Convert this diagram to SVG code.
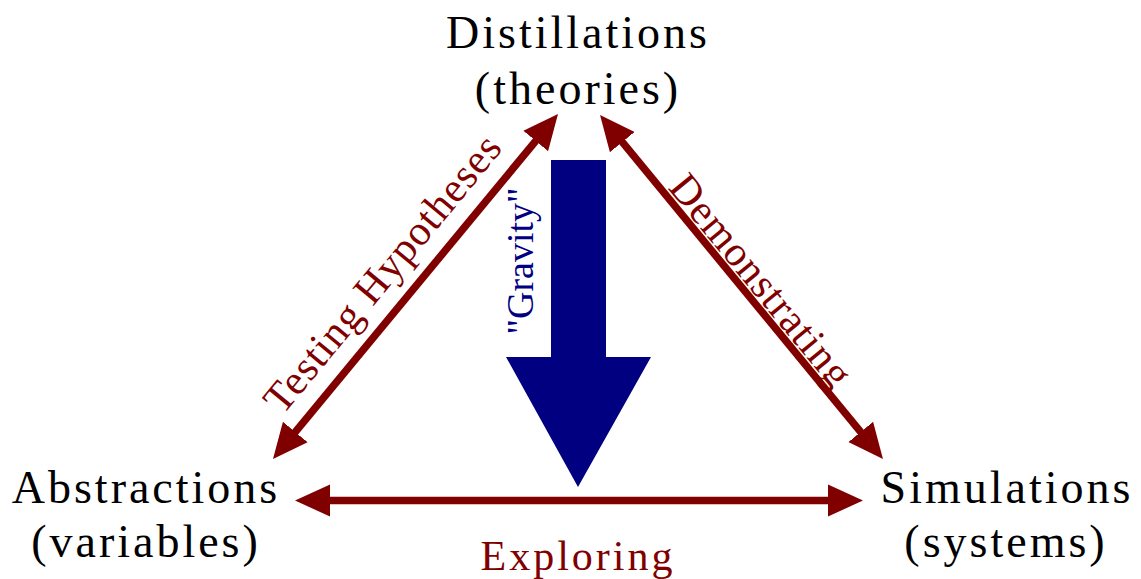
<svg xmlns="http://www.w3.org/2000/svg" width="1141" height="579" viewBox="0 0 1141 579">
<style>
.node{font-family:"Liberation Serif","Times New Roman",serif;font-size:46px;fill:#000;letter-spacing:3px;text-anchor:middle}
.lbl{font-family:"Liberation Serif","Times New Roman",serif;font-size:42px;fill:#800000;text-anchor:middle}
.con{stroke:#800000;stroke-width:7.5;fill:none}
</style>
<defs>
<marker id="ah" markerUnits="userSpaceOnUse" markerWidth="40" markerHeight="40" viewBox="0 -20 40 40" refX="5" refY="0" orient="auto-start-reverse">
<path d="M0,-16 L35,0 L0,16 z" fill="#800000"/>
</marker>
</defs>
<rect width="1141" height="579" fill="#fff"/>
<g id="gravity">
<path d="M551,160 L606,160 L606,357 L651,357 L578,487 L506,357 L551,357 z" fill="#000080"/>
<text transform="translate(533,261) rotate(-90)" font-family="'Liberation Serif','Times New Roman',serif" font-size="38" fill="#000080" text-anchor="middle">"Gravity"</text>
</g>
<g id="connectors">
<g id="testing">
<text class="lbl" letter-spacing="1" transform="translate(393.3,282.1) rotate(-50.4)">Testing Hypotheses</text>
<line class="con" x1="292.1" y1="435.9" x2="538.9" y2="137.1" marker-start="url(#ah)" marker-end="url(#ah)"/>
</g>
<g id="demonstrating">
<text class="lbl" letter-spacing="1" transform="translate(750.5,289.5) rotate(50.6)">Demonstrating</text>
<line class="con" x1="619.1" y1="138.2" x2="863.9" y2="435.8" marker-start="url(#ah)" marker-end="url(#ah)"/>
</g>
<g id="exploring">
<line class="con" x1="325" y1="500.5" x2="833" y2="500.5" marker-start="url(#ah)" marker-end="url(#ah)"/>
<text class="lbl" font-size="40" letter-spacing="3" x="578" y="570">Exploring</text>
</g>
</g>
<g id="distillations">
<text class="node" x="578" y="48">Distillations</text>
<text class="node" x="578" y="104">(theories)</text>
</g>
<g id="abstractions">
<text class="node" x="146" y="503">Abstractions</text>
<text class="node" x="146" y="557">(variables)</text>
</g>
<g id="simulations">
<text class="node" x="1007" y="503">Simulations</text>
<text class="node" x="1006" y="557">(systems)</text>
</g>
</svg>
